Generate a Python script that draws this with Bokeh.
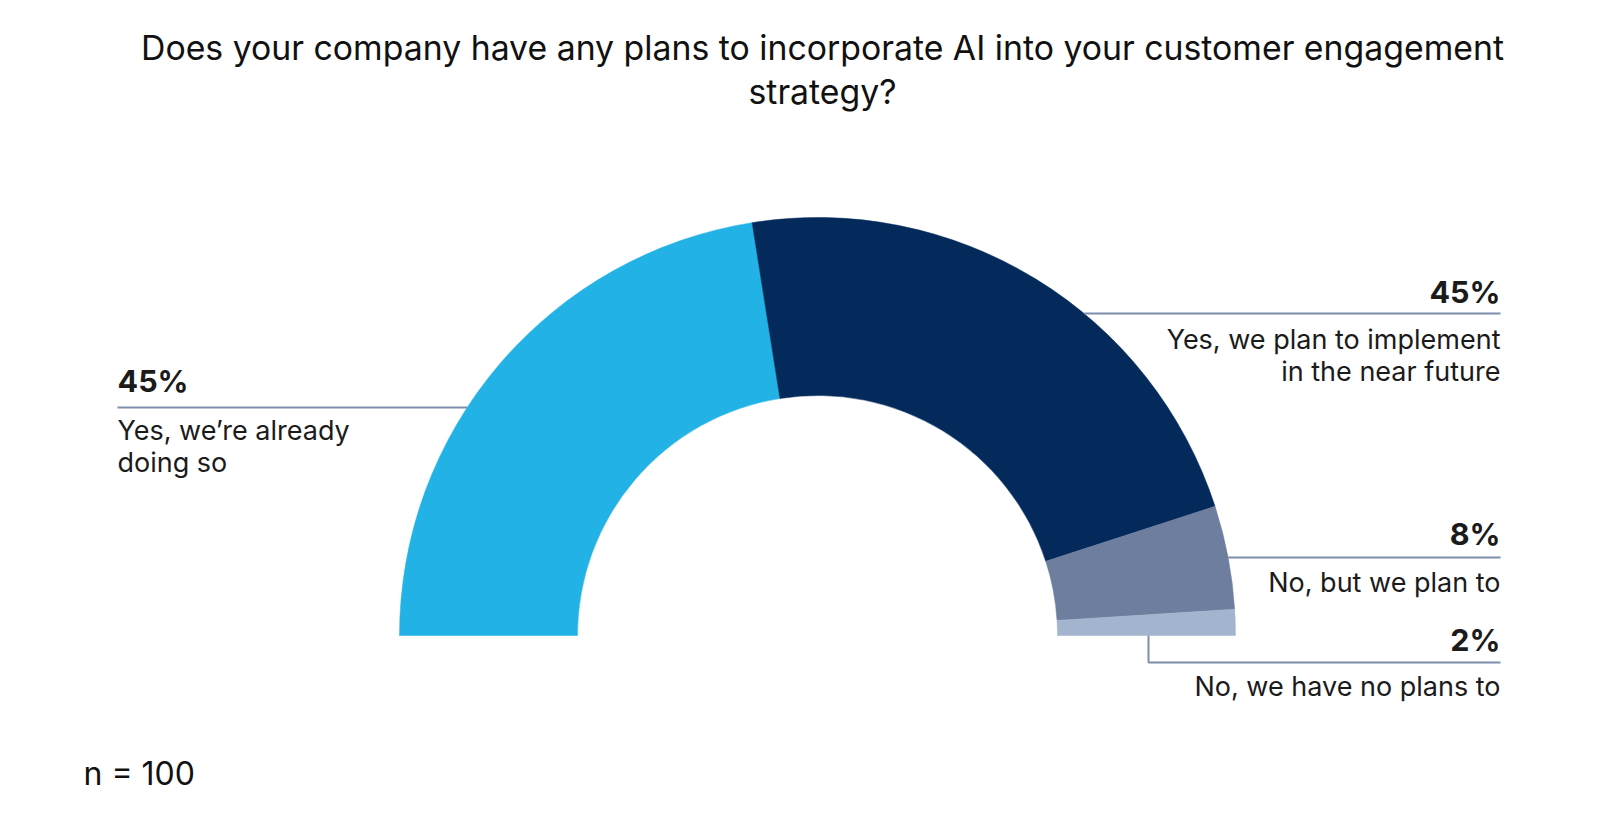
import numpy as np
from bokeh.plotting import figure
from bokeh.models import Range1d, ColumnDataSource
from bokeh.core.properties import value
from bokeh.embed import file_html
from bokeh.resources import INLINE

# ---- data ----
categories = ["Yes, we're already doing so",
              "Yes, we plan to implement in the near future",
              "No, but we plan to",
              "No, we have no plans to"]
values = [45, 45, 8, 2]
pct_labels = ["45%", "45%", "8%", "2%"]
label_lines = [["Yes, we\u2019re already", "doing so"],
               ["Yes, we plan to implement", "in the near future"],
               ["No, but we plan to"],
               ["No, we have no plans to"]]
colors = ["#22B2E6", "#032A5B", "#6E7E9E", "#A3B4CE"]
title_lines = ["Does your company have any plans to incorporate AI into your customer engagement",
               "strategy?"]
note = "n = 100"

W, H = 1600, 825
FONT = "Inter"
TXT = "#1B1B1B"
LEAD = "#7F8EAB"

def Y(sy):
    return H - sy

p = figure(width=W - 16, height=H - 16, output_backend="svg", toolbar_location=None,
           x_range=Range1d(0, W - 16), y_range=Range1d(16, H),
           min_border=0, outline_line_color=None)
p.axis.visible = False
p.grid.visible = False
p.background_fill_color = "white"
p.border_fill_color = "white"

# ---- half donut ----
cx, cy = 817, Y(635)
R_out, R_in = 418, 240
vals = np.array(values, dtype=float)
cum = np.concatenate([[0], np.cumsum(vals)]) / vals.sum()
ends = np.pi * (1 - cum[:-1])
starts = np.pi * (1 - cum[1:])
src = ColumnDataSource(dict(x=[cx] * len(values), y=[cy] * len(values),
                            start=starts, end=ends, color=colors, cat=categories))
p.annular_wedge(x="x", y="y", inner_radius=R_in, outer_radius=R_out,
                start_angle="start", end_angle="end", fill_color="color",
                line_color="color", line_width=0.5, source=src)

# ---- leader lines ----
def arc_x(sy, side):
    dy = 635 - sy
    return cx + side * np.sqrt(R_out ** 2 - dy ** 2)

LX, RX = 117, 1500
xs = [[LX, arc_x(407, -1)],
      [arc_x(313, 1), RX],
      [arc_x(557, 1), RX],
      [1148, 1148, RX]]
ys = [[Y(407), Y(407)],
      [Y(313), Y(313)],
      [Y(557), Y(557)],
      [Y(635), Y(662), Y(662)]]
p.multi_line(xs=xs, ys=ys, line_color=LEAD, line_width=2)

# ---- labels ----
pct_base = [380, 291, 533, 639]
desc_base = [430, 339, 582, 686]
for i in range(len(values)):
    left = i == 0
    x = LX if left else RX
    align = "left" if left else "right"
    p.text(x=[x], y=[Y(pct_base[i])], text=[pct_labels[i]], text_font=value(FONT),
           text_font_size="30.5px", text_font_style="bold", text_color=TXT,
           text_align=align, text_baseline="alphabetic")
    for j, line in enumerate(label_lines[i]):
        p.text(x=[x], y=[Y(desc_base[i] + 32 * j)], text=[line], text_font=value(FONT),
               text_font_size="27px", text_color=TXT,
               text_align=align, text_baseline="alphabetic")

# ---- title and note ----
for j, line in enumerate(title_lines):
    p.text(x=[822], y=[Y(47 + 44 * j)], text=[line], text_font=value(FONT),
           text_font_size="33.8px", text_color="#111111",
           text_align="center", text_baseline="alphabetic")
p.text(x=[83], y=[Y(773)], text=[note], text_font=value(FONT),
       text_font_size="32px", text_color="#111111",
       text_align="left", text_baseline="alphabetic")

open("out.html", "w").write(file_html(p, INLINE))
